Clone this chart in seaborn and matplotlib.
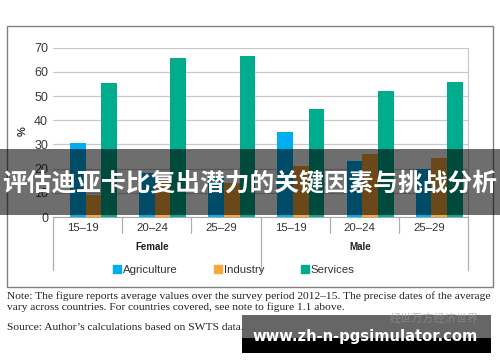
import matplotlib
matplotlib.use("Agg")
import matplotlib.pyplot as plt
import matplotlib.patches as mpatches
import numpy as np
import pandas as pd
import seaborn as sns

# data (Female / Male, three age groups)
sexes = ["Female", "Male"]
ages = ["15–19", "20–24", "25–29"]
sectors = ["Agriculture", "Industry", "Services"]
agriculture = [30.5, 18, 16, 35.3, 23, 20]
industry = [9, 14, 14, 21, 26, 24.5]
services = [55.2, 65.6, 66.7, 44.8, 52.2, 55.8]
colors = ["#00aeef", "#f9a83b", "#00ab8e"]

keys = [f"{s} {a}" for s in sexes for a in ages]
df = pd.DataFrame({
    "group": keys * 3,
    "sector": np.repeat(sectors, len(keys)),
    "share": agriculture + industry + services,
})

W, H = 500, 362
def fx(px):
    return px / W
def fy(py):
    return 1 - py / H

sns.set_style("white")
plt.rcParams["font.family"] = ["Liberation Sans", "DejaVu Sans"]

fig = plt.figure(figsize=(5, 3.62), dpi=100)
ax = fig.add_axes([fx(53), fy(217), fx(468) - fx(53), fy(47.7) - fy(217)])

sns.barplot(data=df, x="group", y="share", hue="sector", order=keys,
            hue_order=sectors, palette=colors, width=0.68, gap=0,
            saturation=1, legend=False, ax=ax, linewidth=0)

ax.set_xlim(-0.585, 5.415)
ax.set_ylim(0, 70)
ax.set_yticks(range(0, 71, 10))
ax.yaxis.grid(True, color="#c8c8c8", lw=0.9)
ax.set_axisbelow(True)
ax.tick_params(axis="y", length=0, pad=3.6, labelsize=9, labelcolor="#3a3a3a")
ax.set_xticks([])
ax.set_xlabel("")
ax.set_ylabel("")
for side in ["top", "left"]:
    ax.spines[side].set_visible(False)
ax.spines["right"].set_color("#c8c8c8")
ax.spines["bottom"].set_color("#a8a8a8")

# multi-level category axis
tr = ax.get_xaxis_transform()
axh = 217 - 47.7
short = -16 / axh
long_ = -53 / axh
for i, a in enumerate(ages * 2):
    ax.text(i - 0.15, -11 / axh, a, transform=tr, ha="center", va="center",
            fontsize=8.2, color="#333333")
for b in [0.415, 1.415, 3.415, 4.415]:
    ax.plot([b, b], [0, short], transform=tr, color="#b0b0b0", lw=0.9, clip_on=False)
for b in [-0.585, 2.415, 5.415]:
    ax.plot([b, b], [0, long_], transform=tr, color="#b0b0b0", lw=0.9, clip_on=False)
for j, s in enumerate(sexes):
    ax.text(0.85 + 3 * j, -30 / axh, s, transform=tr, ha="center", va="center",
            fontsize=7, fontweight="bold", color="#222222")

fig.text(fx(23), fy(131), "%", rotation=90, ha="center", va="center",
         fontsize=8, fontweight="bold", color="#333333")

handles = [mpatches.Patch(color=c, label=s) for c, s in zip(colors, sectors)]
fig.legend(handles=handles, loc="center", bbox_to_anchor=(fx(234), fy(270)),
           ncol=3, frameon=False, fontsize=8.2, handlelength=0.7,
           handleheight=0.7, handletextpad=0.15, columnspacing=3.2,
           labelcolor="#333333")

# outer frame
fig.add_artist(mpatches.Rectangle((fx(7), fy(287)), fx(493) - fx(7), fy(26) - fy(287),
                                  transform=fig.transFigure, fill=False,
                                  edgecolor="#808080", lw=1))

note = ("Note: The figure reports average values over the survey period 2012–15. "
        "The precise dates of the average\nvary across countries. For countries "
        "covered, see note to figure 1.1 above.")
fig.text(fx(7), fy(291.5), note, ha="left", va="top", fontsize=8.25,
         family="Liberation Serif", color="#222222", linespacing=1.15)
fig.text(fx(7), fy(328), "Source: Author’s calculations based on SWTS data.",
         ha="left", va="center", fontsize=8.25, family="Liberation Serif",
         color="#222222")

# title banner
fig.add_artist(mpatches.Rectangle((0, fy(215)), 1, fy(148.5) - fy(215),
                                  transform=fig.transFigure, color="black",
                                  alpha=0.57, lw=0))
fig.text(0.5, fy(183), "评估迪亚卡比复出潜力的关键因素与挑战分析", ha="center",
         va="center", fontsize=17.8, fontweight="bold", color="white",
         family=["Noto Sans CJK SC", "DejaVu Sans"])

# watermark
fig.add_artist(mpatches.Rectangle((fx(242), fy(338)), fx(491) - fx(242), fy(315) - fy(338),
                                  transform=fig.transFigure, color="black",
                                  alpha=0.6, lw=0))
fig.add_artist(mpatches.Rectangle((fx(242), fy(353)), fx(491) - fx(242), fy(338) - fy(353),
                                  transform=fig.transFigure, color="black", lw=0))
fig.text(fx(434), fy(318), "经世万方经济世界", ha="center", va="center",
         fontsize=8, color="#9a9a9a", alpha=0.6,
         family=["Noto Sans CJK SC", "DejaVu Sans"])
fig.text(fx(365), fy(336), "www.zh-n-pgsimulator.com", ha="center", va="center",
         fontsize=10.6, fontweight="bold", color="white",
         family=["DejaVu Sans"])

fig.savefig("out.png", dpi=100)
